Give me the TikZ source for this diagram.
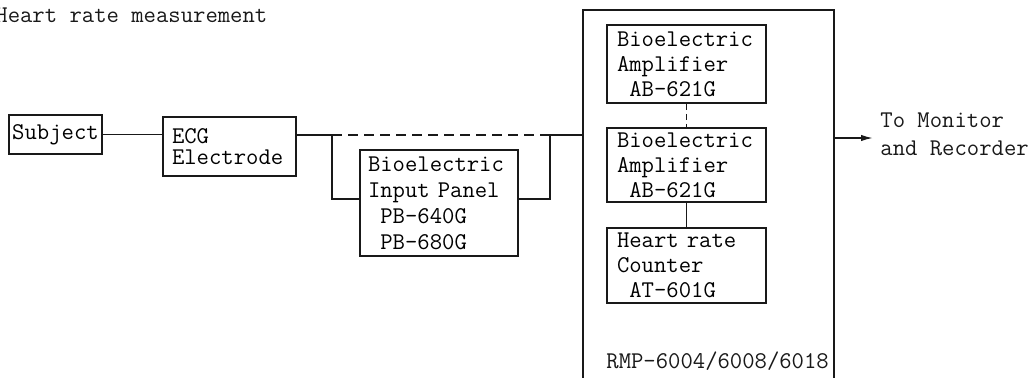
\documentclass[tikz,border=0pt]{standalone}
\usepackage{fontspec}
\usepackage{tikz}
\usetikzlibrary{arrows.meta, positioning, calc}
\definecolor{ink}{RGB}{25,25,25}
\tikzset{
  block/.style={rectangle, draw=ink, line width=0.8pt, align=left,
    font=\ttfamily\fontsize{12}{12.5}\selectfont, inner xsep=5pt, inner ysep=0pt},
  ampblock/.style={block, text width=69.5pt},
  plaintext/.style={font=\ttfamily\fontsize{12}{14}\selectfont, color=ink, inner sep=0pt},
  arrow/.style={-{Latex[length=6pt,width=3.2pt]}, line width=0.8pt, color=ink},
  line/.style={line width=0.8pt, color=ink},
  dashline/.style={line, dash pattern=on 5pt off 3pt}
}

\begin{document}
\begin{tikzpicture}[x=0.5pt, y=-0.5pt]
  \useasboundingbox (0,0) rectangle (1028,377);
  \clip (0,0) rectangle (1028,377);

  % Title
  \node[plaintext, anchor=base west] (title) at (-5,22) {Heart rate measurement};

  % Chain on the left
  \node[block, align=center, text width=44.5pt, inner xsep=1pt, minimum height=19.5pt] (subj) at (55.5,134.5) {Subject};
  \node[block, text width=57.5pt, inner xsep=4.5pt, minimum height=29.5pt,
        font=\ttfamily\fontsize{12}{10.5}\selectfont] (ecg) at (229.5,146.5) {ECG\\Electrode};
  \node[block, text width=71pt, inner xsep=4pt, minimum height=53pt,
        font=\ttfamily\fontsize{12}{13}\selectfont] (panel) at (439,203)
        {Bioelectric\\Input Panel\\\phantom{P}PB-640G\\\phantom{P}PB-680G};

  % Recorder unit
  \node[rectangle, draw=ink, line width=0.8pt, minimum width=125.5pt, minimum height=200pt,
        inner sep=0pt] (rmp) at (708.5,210) {};
  \node[ampblock, minimum height=39pt] (amp1) at (686.5,64) {Bioelectric\\Amplifier\\\phantom{A}AB-621G};
  \node[ampblock, minimum height=37pt] (amp2) at (686.5,165) {Bioelectric\\Amplifier\\\phantom{A}AB-621G};
  \node[ampblock, minimum height=37.5pt] (counter) at (686.5,265.5) {Heart rate\\Counter\\\phantom{A}AT-601G};
  \node[plaintext, anchor=base west] (model) at (606,368) {RMP-6004/6008/6018};

  % Output
  \node[plaintext, anchor=base west, align=left] (dest) at (880,155) {To Monitor\\and Recorder};

  % Wiring
  \coordinate (jl) at (332,135);
  \coordinate (jr) at (550,135);
  \coordinate (out) at (873,138);
  \draw[line] (subj.east) -- (subj.east -| ecg.west);
  \draw[line] (ecg.east |- jl) -- (jl);
  \draw[dashline] (jl) -- (jr);
  \draw[line] (jr) -- (jr -| rmp.west);
  \draw[line] (jl) |- ([yshift=2pt]panel.west);
  \draw[line] ([yshift=2pt]panel.east) -| (jr);
  \draw[line, dash pattern=on 3pt off 2pt] (amp1.south) -- (amp2.north);
  \draw[line] (amp2.south) -- (counter.north);
  \draw[arrow] (out -| rmp.east) -- (out);
\end{tikzpicture}
\end{document}
